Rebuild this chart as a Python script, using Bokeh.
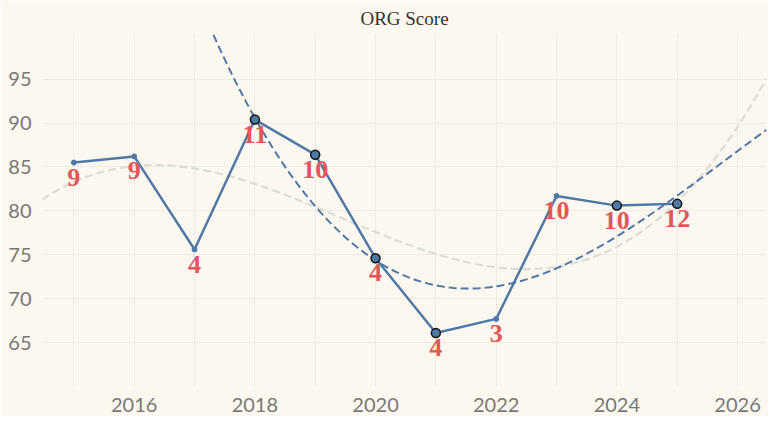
import numpy as np
from bokeh.plotting import figure
from bokeh.models import ColumnDataSource, Range1d, FixedTicker
from bokeh.embed import file_html
from bokeh.resources import INLINE

years = [2015, 2016, 2017, 2018, 2019, 2020, 2021, 2022, 2023, 2024, 2025]
scores = [85.5, 86.2, 75.6, 90.4, 86.4, 74.6, 66.1, 67.7, 81.7, 80.6, 80.8]
counts = ["9", "9", "4", "11", "10", "4", "4", "3", "10", "10", "12"]
marked = [False, False, False, True, True, True, True, False, False, True, True]

# trend curves
gray_x = [2014.5, 2016, 2018, 2020, 2022, 2024, 2026.5]
gray_y = [81.0, 85.7, 83.5, 76.8, 73.0, 77.0, 95.0]
blue_x = [2018, 2019, 2020, 2021.6, 2024, 2025, 2026.5]
blue_y = [90.0, 81.5, 74.6, 70.2, 77.0, 82.5, 89.0]

p = figure(width=768, height=416, output_backend="svg", toolbar_location=None,
           x_range=Range1d(2014.48, 2026.48), y_range=Range1d(60, 100.2),
           background_fill_color="#fdf8ef", border_fill_color="#fdf8ef",
           min_border_left=42, min_border_right=2, min_border_top=6, min_border_bottom=30)
p.title.text = "ORG Score"
p.title.align = "center"
p.title.text_font = "Liberation Serif"
p.title.text_font_style = "normal"
p.title.text_font_size = "19px"
p.title.text_color = "#333333"
p.outline_line_color = None

xs = np.linspace(2014.48, 2026.48, 200)
p.line(xs, np.polyval(np.polyfit(gray_x, gray_y, 3), xs), line_color="#dcdcd8",
       line_width=2.2, line_dash="8 4")
p.line(xs, np.polyval(np.polyfit(blue_x, blue_y, 3), xs), line_color="#4e79a7",
       line_width=2, line_dash="8 4")

my = [y for y, m in zip(years, marked) if m]
ms = [s for s, m in zip(scores, marked) if m]
src = ColumnDataSource(dict(x=years, y=scores, t=counts))
p.line("x", "y", source=src, line_color="#4e79a7", line_width=2.5)
p.scatter("x", "y", source=src, size=5, color="#4e79a7")
p.scatter(my, ms, size=9, fill_color="#4e79a7", line_color="#111111", line_width=1.5)
p.text("x", "y", text="t", source=src, y_offset=6, text_align="center",
       text_baseline="top", text_font_size="26px", text_font_style="bold",
       text_font={"value": "Liberation Serif"}, text_color="#e15759")

p.xaxis.ticker = FixedTicker(ticks=[2014, 2016, 2018, 2020, 2022, 2024, 2026])
p.yaxis.ticker = FixedTicker(ticks=[65, 70, 75, 80, 85, 90, 95])
for ax in (p.xaxis[0], p.yaxis[0]):
    ax.axis_line_color = None
    ax.major_tick_line_color = None
    ax.minor_tick_line_color = None
    ax.major_label_text_font = "Lato"
    ax.major_label_text_font_size = "20px"
    ax.major_label_text_color = "#777777"
p.xgrid.ticker = FixedTicker(ticks=list(range(2015, 2027)))
p.xgrid.grid_line_color = "#f0ece4"
p.ygrid.grid_line_color = "#f0ece4"

open("out.html", "w").write(file_html(p, INLINE))
